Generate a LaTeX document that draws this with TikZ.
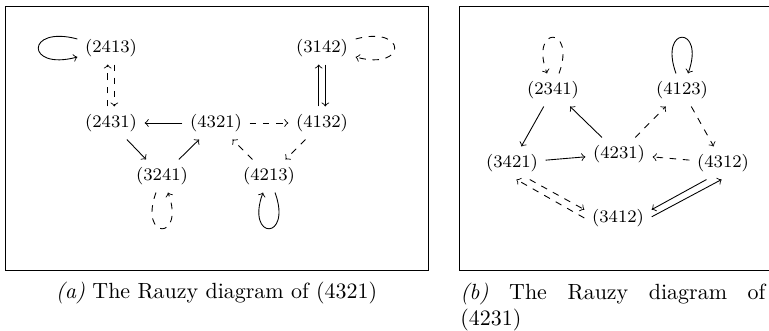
\documentclass[tikz,border=0pt]{standalone}
\usepackage{amsmath}
\usepackage{xcolor}
\usepackage{tikz}

\begin{document}
\begin{tikzpicture}[perm/.style={font=\footnotesize},
  lpside/.style={min distance=0.86cm},
  lpvert/.style={min distance=0.82cm}]
\clip (0,0) rectangle (12.304,5.296);

%frames
\draw (0.08,0.976) rectangle (6.848,5.2);
\draw (7.344,0.976) rectangle (12.6,5.2);

%(a) vertices
\node[perm] (a2413) at (1.776,4.528) {(2413)};
\node[perm] (a3142) at (5.152,4.528) {(3142)};
\node[perm] (a2431) at (1.776,3.328) {(2431)};
\node[perm] (a4321) at (3.456,3.328) {(4321)};
\node[perm] (a4132) at (5.152,3.328) {(4132)};
\node[perm] (a3241) at (2.592,2.48) {(3241)};
\node[perm] (a4213) at (4.304,2.48) {(4213)};

%(a) edges
\draw [->] (a4321) -- (a2431);
\draw [->,dashed] (a4321) -- (a4132);
\draw [->] (a2431) -- (a3241);
\draw [->] (a3241) -- (a4321);
\draw [->,dashed] (a4132) -- (a4213);
\draw [->,dashed] (a4213) -- (a4321);
\draw [->,dashed] ([xshift=-1.5pt]a2431.north) -- ([xshift=-1.5pt]a2413.south);
\draw [->,dashed] ([xshift=1.5pt]a2413.south) -- ([xshift=1.5pt]a2431.north);
\draw [->] ([xshift=-1.5pt]a4132.north) -- ([xshift=-1.5pt]a3142.south);
\draw [->] ([xshift=1.5pt]a3142.south) -- ([xshift=1.5pt]a4132.north);

%(a) loops
\draw [->] (a2413) to[out=165,in=195,lpside] (a2413);
\draw [->,dashed] (a3142) to[out=15,in=-15,lpside] (a3142);
\draw [->,dashed] (a3241) to[out=250,in=290,lpvert] (a3241);
\draw [->] (a4213) to[out=290,in=250,lpvert] (a4213);

%(b) vertices
\node[perm] (b2341) at (8.848,3.856) {(2341)};
\node[perm] (b4123) at (10.912,3.856) {(4123)};
\node[perm] (b3421) at (8.192,2.688) {(3421)};
\node[perm] (b4231) at (9.904,2.832) {(4231)};
\node[perm] (b4312) at (11.568,2.688) {(4312)};
\node[perm] (b3412) at (9.888,1.808) {(3412)};

%(b) edges
\draw [->] (b2341) -- (b3421);
\draw [->] (b4231) -- (b2341);
\draw [->] (b3421) -- (b4231);
\draw [->,dashed] (b4231) -- (b4123);
\draw [->,dashed] (b4123) -- (b4312);
\draw [->,dashed] (b4312) -- (b4231);
\draw [->,dashed] (b3421.-43) -- (b3412.166);
\draw [->,dashed] (b3412.180) -- (b3421.-75);
\draw [->] (b4312.225) -- (b3412.14);
\draw [->] (b3412.2) -- (b4312.265);

%(b) loops
\draw [->,dashed] (b2341) to[out=70,in=110,lpvert] (b2341);
\draw [->] (b4123) to[out=110,in=70,lpvert] (b4123);

%captions
\node[anchor=base] (capa) at (3.464,0.52) {\textit{(a)} The Rauzy diagram of (4321)};
\node[anchor=north west,text width=4.88cm,align=justify,inner sep=0pt] (capb) at (7.36,0.78)
  {\textit{(b)} The Rauzy diagram of (4231)};
\end{tikzpicture}
\end{document}
